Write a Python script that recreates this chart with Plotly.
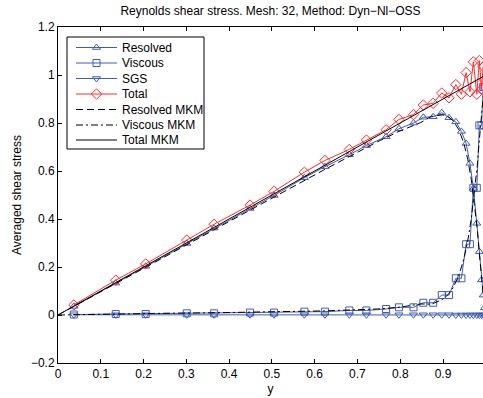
import plotly.graph_objects as go

# LES sample points
y_pts = [0.037, 0.135, 0.205, 0.301, 0.365, 0.449, 0.505, 0.576, 0.624, 0.681,
         0.721, 0.767, 0.797, 0.831, 0.854, 0.877, 0.897, 0.914, 0.930, 0.943,
         0.954, 0.963, 0.971, 0.979, 0.985, 0.990, 0.994, 0.997]
resolved = [0.036, 0.133, 0.203, 0.298, 0.362, 0.444, 0.498, 0.572, 0.618, 0.668,
            0.706, 0.743, 0.776, 0.800, 0.824, 0.826, 0.843, 0.822, 0.805, 0.765,
            0.715, 0.632, 0.528, 0.382, 0.264, 0.146, 0.083, 0.030]
viscous = [0.002, 0.004, 0.004, 0.007, 0.007, 0.010, 0.010, 0.014, 0.014, 0.019,
           0.019, 0.025, 0.032, 0.032, 0.051, 0.051, 0.083, 0.083, 0.153, 0.153,
           0.295, 0.295, 0.530, 0.530, 0.790, 0.790, 0.950, 0.950]
sgs = [0.001, 0.001, 0.001, 0.001, 0.001, 0.001, 0.001, 0.001, 0.001, 0.001,
       0.001, 0.001, 0.001, 0.001, 0.001, 0.001, 0.001, 0.001, 0.000, 0.000,
       0.000, 0.000, 0.000, 0.000, 0.000, 0.000, 0.000, 0.000]
total = [0.042, 0.145, 0.213, 0.312, 0.378, 0.458, 0.515, 0.595, 0.644, 0.690,
         0.729, 0.772, 0.815, 0.835, 0.875, 0.882, 0.925, 0.905, 0.960, 0.920,
         1.010, 0.930, 1.055, 0.920, 1.060, 0.940, 1.035, 0.980]

# MKM reference data
y_mkm = [0.0, 0.114, 0.241, 0.367, 0.494, 0.620, 0.747, 0.797, 0.848, 0.873,
         0.899, 0.912, 0.924, 0.937, 0.949, 0.958, 0.966, 0.973, 0.980, 0.985,
         0.990, 0.994, 0.997, 1.0]
res_mkm = [0.0, 0.1095, 0.234, 0.3575, 0.4815, 0.603, 0.722, 0.765, 0.802, 0.828,
           0.834, 0.827, 0.809, 0.772, 0.714, 0.648, 0.566, 0.473, 0.360, 0.255,
           0.150, 0.074, 0.027, 0.0]
vis_mkm = [0.0, 0.0045, 0.007, 0.0095, 0.0125, 0.017, 0.025, 0.032, 0.046, 0.045,
           0.065, 0.085, 0.115, 0.165, 0.235, 0.310, 0.400, 0.500, 0.620, 0.730,
           0.840, 0.920, 0.970, 1.0]
tot_mkm = [0.0, 0.114, 0.241, 0.367, 0.494, 0.620, 0.747, 0.797, 0.848, 0.873,
           0.899, 0.912, 0.924, 0.937, 0.949, 0.958, 0.966, 0.973, 0.980, 0.985,
           0.990, 0.994, 0.997, 1.0]

x_ticks = [0, 0.1, 0.2, 0.3, 0.4, 0.5, 0.6, 0.7, 0.8, 0.9]
y_ticks = [-0.2, 0, 0.2, 0.4, 0.6, 0.8, 1, 1.2]
y_ticktext = ["\u22120.2", "0", "0.2", "0.4", "0.6", "0.8", "1", "1.2"]

legend_names = ["Resolved", "Viscous", "SGS", "Total",
                "Resolved MKM", "Viscous MKM", "Total MKM"]

BLUE = "#3f5cb8"
RED = "#ff2a2a"
FONT = "Liberation Sans, Arial, sans-serif"
FS = 12
DASH = "7px,4px"
DASHDOT = "7px,3px,2px,3px"

styles = [
    dict(color=BLUE, dash="solid", symbol="triangle-up-open", size=7),
    dict(color=BLUE, dash="solid", symbol="square-open", size=7),
    dict(color=BLUE, dash="solid", symbol="triangle-down-open", size=7),
    dict(color=RED, dash="solid", symbol="diamond-open", size=8),
    dict(color="black", dash=DASH, symbol=None, size=0),
    dict(color="black", dash=DASHDOT, symbol=None, size=0),
    dict(color="black", dash="solid", symbol=None, size=0),
]

fig = go.Figure()

series = [(y_pts, resolved), (y_pts, viscous), (y_pts, sgs), (y_pts, total),
          (y_mkm, res_mkm), (y_mkm, vis_mkm), (y_mkm, tot_mkm)]

for (xs, ys), name, st in zip(series, legend_names, styles):
    if st["symbol"]:
        fig.add_trace(go.Scatter(
            x=xs, y=ys, name=name, mode="lines+markers", showlegend=False,
            line=dict(color=st["color"], width=1, dash=st["dash"]),
            marker=dict(symbol=st["symbol"], size=st["size"], color=st["color"],
                        line=dict(color=st["color"], width=1)),
        ))
    else:
        fig.add_trace(go.Scatter(
            x=xs, y=ys, name=name, mode="lines", showlegend=False,
            line=dict(color=st["color"], width=1, dash=st["dash"]),
        ))

# Manual legend on a pixel-coordinate overlay axis (x: 58..483, y: 363..27)
L_X0, L_X1, L_Y0, L_Y1 = 67, 204, 37, 149
row_y = [47.5, 63.0, 78.5, 94.0, 109.5, 125.0, 140.0]
fig.add_shape(type="rect", xref="x2", yref="y2", x0=L_X0, x1=L_X1, y0=L_Y0, y1=L_Y1,
              line=dict(color="black", width=1), fillcolor="white", layer="below")
for name, st, ry in zip(legend_names, styles, row_y):
    fig.add_trace(go.Scatter(x=[76, 117], y=[ry, ry], xaxis="x2", yaxis="y2",
                             mode="lines", showlegend=False, hoverinfo="skip",
                             line=dict(color=st["color"], width=1, dash=st["dash"])))
    if st["symbol"]:
        fig.add_trace(go.Scatter(x=[96.5], y=[ry], xaxis="x2", yaxis="y2",
                                 mode="markers", showlegend=False, hoverinfo="skip",
                                 marker=dict(symbol=st["symbol"], size=st["size"],
                                             color=st["color"],
                                             line=dict(color=st["color"], width=1))))
    fig.add_annotation(x=120, y=ry, xref="x2", yref="y2", text=name, showarrow=False,
                       xanchor="left", yanchor="middle",
                       font=dict(family=FONT, size=FS, color="black"))

fig.update_layout(
    width=483, height=398,
    margin=dict(l=58, r=0, t=27, b=35),
    paper_bgcolor="white", plot_bgcolor="white",
    font=dict(family=FONT, size=FS, color="black"),
    title=dict(text="Reynolds shear stress. Mesh: 32, Method: Dyn\u2212Nl\u2212OSS",
               x=0.5, xref="paper", xanchor="center",
               y=1 - 11 / 398, yref="container", yanchor="middle",
               font=dict(family=FONT, size=FS, color="black")),
    showlegend=False,
    xaxis=dict(range=[0, 0.9935], tickvals=x_ticks, ticktext=[str(v) for v in x_ticks],
               ticks="inside", ticklen=4, tickcolor="black", showline=True,
               linecolor="black", linewidth=1, mirror="ticks", showgrid=False,
               zeroline=False, tickfont=dict(size=FS),
               title=dict(text="y", standoff=4, font=dict(size=FS))),
    yaxis=dict(range=[-0.2, 1.2], tickvals=y_ticks, ticktext=y_ticktext,
               ticks="inside", ticklen=4, tickcolor="black", showline=True,
               linecolor="black", linewidth=1, mirror=False, showgrid=False,
               zeroline=False, tickfont=dict(size=FS),
               title=dict(text="Averaged shear stress", standoff=6, font=dict(size=FS))),
    xaxis2=dict(overlaying="x", range=[58, 483], visible=False, fixedrange=True),
    yaxis2=dict(overlaying="y", range=[363, 27], visible=False, fixedrange=True),
)

fig.write_html("out.html")
